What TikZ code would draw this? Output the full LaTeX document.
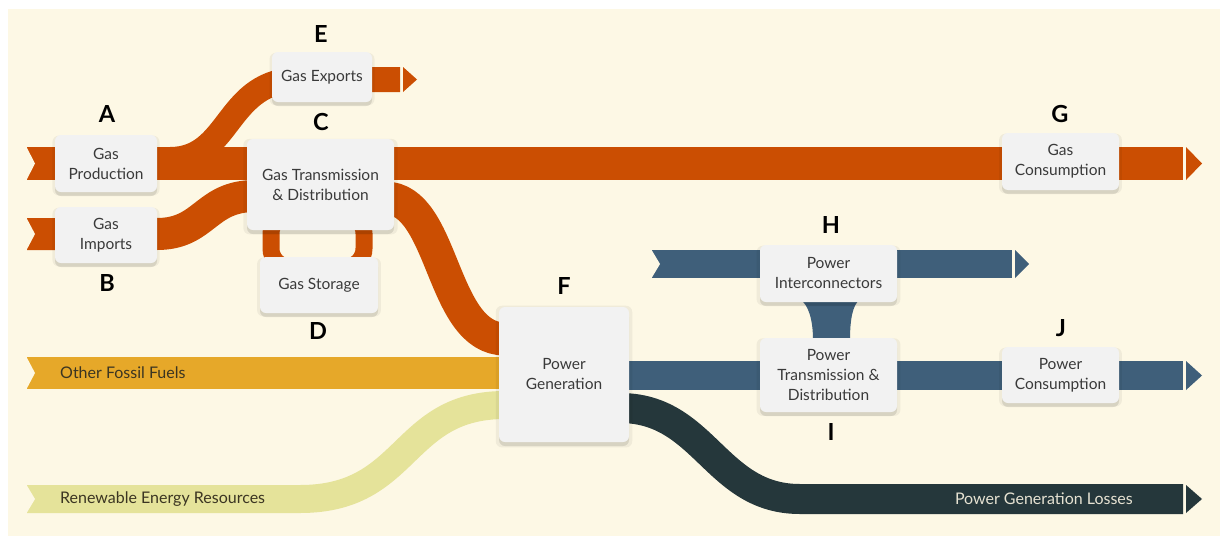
\documentclass[tikz,border=0pt]{standalone}
\usepackage{fontspec}
\setmainfont{Lato}
\usetikzlibrary{calc,shadows}
\definecolor{bgcream}{HTML}{FDF8E5}
\definecolor{gasc}{HTML}{CB4E02}
\definecolor{fossilc}{HTML}{E6A829}
\definecolor{renewc}{HTML}{E5E39A}
\definecolor{bluec}{HTML}{3F5F7A}
\definecolor{lossc}{HTML}{25373B}
\definecolor{boxc}{HTML}{F2F2F2}
\definecolor{txtc}{HTML}{3A3A3A}
\definecolor{flowtxt}{HTML}{3B3522}
\definecolor{losstxt}{HTML}{E6E2D2}
% notch cut at the start of a band: point, half height
\newcommand\notchcut[2]{\fill[bgcream] ($(#1)+(-1,-#2-1)$) -- ($(#1)+(8,0)$) -- ($(#1)+(-1,#2+1)$) -- cycle;}
% arrow tip after a band end: point, half height, length, colour
\newcommand\flowtip[4]{\fill[#4] ($(#1)+(3,-#2)$) -- ($(#1)+(3+#3,0)$) -- ($(#1)+(3,#2)$) -- cycle;}
\begin{document}
\begin{tikzpicture}[x=1pt,y=-1pt,
  ribbon/.style={draw=#1, line cap=butt, line join=round},
  box/.style={fill=boxc, rounded corners=6pt, align=center, inner sep=0pt, text=txtc,
    font=\fontsize{15.5}{20}\selectfont,
    general shadow={fill=black, opacity=0.05, shadow yshift=-2pt, shadow scale=1.05},
    general shadow={fill=black, opacity=0.10, shadow yshift=-4pt, shadow scale=1.0}},
  lett/.style={font=\fontsize{23.5}{24}\selectfont\bfseries, text=black, inner sep=0pt},
  flowlbl/.style={font=\fontsize{16}{18}\selectfont, text=flowtxt, inner sep=0pt, anchor=west}]
\useasboundingbox (0,0) rectangle (1220,536);
\fill[white] (0,0) rectangle (1220,536);
\fill[bgcream] (8,9) rectangle (1220,536);

% ---- box positions
\coordinate (pA) at (106,163.5);
\coordinate (pB) at (106,235);
\coordinate (pC) at (320.5,184.5);
\coordinate (pD) at (319,285);
\coordinate (pE) at (322,77);
\coordinate (pF) at (564,374.5);
\coordinate (pG) at (1060.5,161.5);
\coordinate (pH) at (828.5,273.5);
\coordinate (pI) at (828.5,375);
\coordinate (pJ) at (1060.5,375);

% ---- flow end points
\coordinate (gA) at (27,163.5);
\coordinate (gOut) at (1183,163.5);
\coordinate (gB) at (27,234);
\coordinate (cIn2) at (255,196);
\coordinate (eStart) at (170,159.5);
\coordinate (eIn) at (300,79.5);
\coordinate (eOut) at (400,79.5);
\coordinate (cOut2) at (385,198);
\coordinate (fIn1) at (505,339);
\coordinate (foIn) at (27,373);
\coordinate (fIn2) at (505,373);
\coordinate (rIn) at (27,499);
\coordinate (rBend) at (300,499);
\coordinate (fIn3) at (505,405);
\coordinate (fOut1) at (620,375.5);
\coordinate (bOut) at (1183,375.5);
\coordinate (hIn) at (652,264);
\coordinate (hOut) at (1012,264);
\coordinate (fOut3) at (620,408);
\coordinate (lBend) at (800,499);
\coordinate (lOut) at (1183,499);

% ---- gas storage loop
\draw[gasc, line width=17pt, rounded corners=18.5pt] (271,215) rectangle (364,267);

% ---- gas flows
\draw[ribbon=gasc, line width=25pt] (eStart) .. controls (232,159.5) and (225,79.5) .. (eIn) -- (eOut);
\flowtip{eOut}{12.5}{14}{gasc}
\draw[ribbon=gasc, line width=32pt] (gB) -- (157,234) .. controls (205,234) and (205,196) .. (cIn2);
\notchcut{gB}{16}
\draw[ribbon=gasc, line width=33pt] (cOut2) .. controls (445,198) and (440,339) .. (fIn1);
\draw[ribbon=gasc, line width=33pt] (gA) -- (gOut);
\notchcut{gA}{16.5}
\flowtip{gOut}{16.5}{16}{gasc}

% ---- other fuels
\draw[ribbon=fossilc, line width=32pt] (foIn) -- (fIn2);
\notchcut{foIn}{16}
\draw[ribbon=renewc, line width=28pt] (rIn) -- (rBend) .. controls (410,499) and (400,405) .. (fIn3);
\notchcut{rIn}{14}

% ---- power flows
\draw[ribbon=bluec, line width=29pt] (fOut1) -- (bOut);
\flowtip{bOut}{14.5}{16}{bluec}
\draw[ribbon=bluec, line width=28pt] (hIn) -- (hOut);
\notchcut{hIn}{14}
\flowtip{hOut}{14}{14}{bluec}
\fill[bluec] ($(pH)+(-28.5,26)$) .. controls ($(pH)+(-20,31)$) and ($(pI)+(-15.5,-55)$) .. ($(pI)+(-15.5,-35)$)
  -- ($(pI)+(21.5,-35)$) .. controls ($(pI)+(21.5,-55)$) and ($(pH)+(24,31)$) .. ($(pH)+(31.5,26)$) -- cycle;
\draw[ribbon=lossc, line width=30pt] (fOut3) .. controls (705,408) and (715,499) .. (lBend) -- (lOut);
\flowtip{lOut}{14}{16}{lossc}

% ---- boxes
\node[box, minimum width=102pt, minimum height=57pt] (A) at (pA) {Gas\\Production};
\node[box, minimum width=102pt, minimum height=56pt] (B) at (pB) {Gas\\Imports};
\node[box, minimum width=118pt, minimum height=56pt] (D) at (pD) {Gas Storage};
\node[box, minimum width=147pt, minimum height=91pt] (C) at (pC) {Gas Transmission\\\& Distribution};
\node[box, minimum width=100pt, minimum height=50pt] (E) at (pE) {Gas Exports};
\node[box, minimum width=130pt, minimum height=135pt] (F) at (pF) {Power\\Generation};
\node[box, minimum width=117pt, minimum height=57pt] (G) at (pG) {Gas\\Consumption};
\node[box, minimum width=137pt, minimum height=57pt] (H) at (pH) {Power\\Interconnectors};
\node[box, minimum width=137pt, minimum height=74pt] (I) at (pI) {Power\\Transmission \&\\Distribution};
\node[box, minimum width=117pt, minimum height=56pt] (J) at (pJ) {Power\\Consumption};

% ---- flow labels
\node[flowlbl] (lfo) at (60,373) {Other Fossil Fuels};
\node[flowlbl] (lre) at (60,499) {Renewable Energy Resources};
\node[flowlbl, anchor=east, text=losstxt] (llo) at (1133,499) {Power Generation Losses};

% ---- letters
\node[lett] (la) at (107,114) {A};
\node[lett] (lb) at (107,283) {B};
\node[lett] (lc) at (321,122) {C};
\node[lett] (ld) at (318,331) {D};
\node[lett] (le) at (321,34) {E};
\node[lett] (lf) at (564,286) {F};
\node[lett] (lg) at (1060,114) {G};
\node[lett] (lh) at (831,225) {H};
\node[lett] (li) at (831,432) {I};
\node[lett] (lj) at (1061,328) {J};
\end{tikzpicture}
\end{document}
